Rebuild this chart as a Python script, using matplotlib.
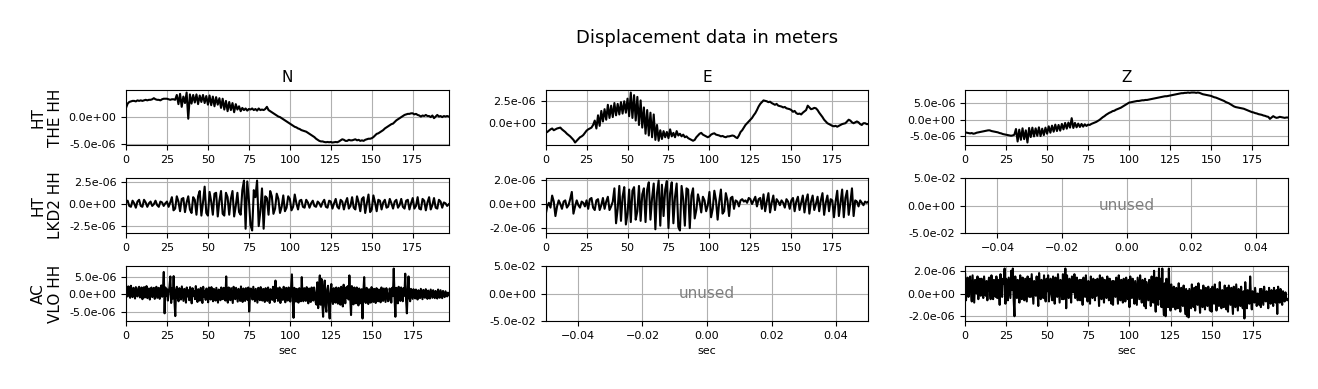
import matplotlib
matplotlib.use('Agg')
import matplotlib.pyplot as plt
from matplotlib.ticker import FormatStrFormatter
import numpy as np

# Displacement traces, values in micrometres.
# HT traces: one sample per second; AC VLO traces: two samples per second.
the_n = [1.6, 2.4, 2.7, 2.8, 2.9, 2.9, 2.8, 3.0, 2.9, 3.0,
         2.9, 3.0, 3.1, 3.0, 3.1, 3.1, 3.2, 3.4, 3.2, 3.1,
         3.1, 3.0, 3.2, 3.3, 3.3, 3.3, 3.2, 3.1, 3.2, 3.2,
         3.1, 4.0, 2.3, 4.2, 1.8, 3.7, 2.5, 4.45, -0.4, 4.1,
         2.4, 4.0, 2.6, 4.1, 2.3, 3.9, 2.7, 4.0, 2.5, 3.8,
         2.2, 3.9, 2.1, 3.7, 1.9, 3.6, 2.2, 3.4, 1.6, 3.3,
         1.3, 2.9, 1.0, 2.7, 1.2, 2.5, 0.8, 2.3, 1.3, 1.9,
         1.0, 1.6, 1.2, 1.5, 1.1, 1.4, 1.3, 1.5, 1.2, 1.4,
         1.1, 1.5, 1.2, 1.3, 1.2, 1.4, 1.8, 1.2, 1.0, 0.8,
         0.6, 0.4, 0.2, 0.0, -0.1, -0.3, -0.5, -0.7, -0.9, -1.1,
         -1.3, -1.5, -1.7, -1.9, -2.0, -2.2, -2.3, -2.5, -2.6, -2.7,
         -2.8, -3.0, -3.2, -3.4, -3.6, -3.8, -4.1, -4.3, -4.5, -4.6,
         -4.6, -4.7, -4.75, -4.7, -4.75, -4.7, -4.8, -4.75, -4.7, -4.75,
         -4.6, -4.4, -4.2, -4.3, -4.5, -4.5, -4.3, -4.4, -4.4, -4.3,
         -4.2, -4.4, -4.3, -4.5, -4.4, -4.5, -4.3, -4.2, -4.1, -4.1,
         -4.0, -3.8, -3.5, -3.2, -3.1, -2.9, -2.7, -2.5, -2.2, -2.0,
         -1.8, -1.6, -1.4, -1.3, -1.0, -0.7, -0.5, -0.3, -0.1, 0.1,
         0.3, 0.4, 0.5, 0.5, 0.6, 0.6, 0.4, 0.5, 0.3, 0.2,
         0.0, 0.2, 0.1, 0.3, 0.1, 0.1, -0.1, 0.2, -0.3, 0.0,
         0.3, 0.0, 0.1, -0.1, 0.1, 0.0, 0.1, 0.0]

the_e = [-1.1, -1.0, -0.85, -0.7, -0.6, -0.8, -0.7, -0.6, -0.55, -0.5,
         -0.7, -0.85, -1.0, -1.2, -1.35, -1.5, -1.7, -1.9, -2.2, -2.0,
         -1.8, -1.6, -1.5, -1.35, -1.1, -0.85, -0.7, -0.6, -0.5, -0.2,
         0.3, -0.6, 0.9, -0.3, 1.4, 0.2, 1.6, 0.4, 2.1, 0.6,
         2.0, 0.7, 2.3, 0.9, 2.2, 1.0, 2.4, 1.1, 2.5, 1.2,
         2.8, 0.8, 3.5, 0.6, 3.2, 0.3, 3.0, -0.2, 2.6, -0.5,
         1.8, -1.2, 1.5, -1.4, 1.2, -1.6, 1.0, -1.9, -0.2, -2.0,
         -0.8, -1.8, -0.9, -1.6, -1.0, -1.7, -0.7, -1.5, -1.1, -1.6,
         -0.9, -1.4, -1.2, -1.5, -1.3, -1.6, -1.5, -1.7, -1.8, -1.9,
         -2.0, -1.9, -1.6, -1.4, -1.2, -1.1, -1.3, -1.4, -1.5, -1.6,
         -1.5, -1.3, -1.2, -1.15, -1.3, -1.35, -1.4, -1.5, -1.45, -1.55,
         -1.6, -1.5, -1.5, -1.45, -1.4, -1.45, -1.6, -1.7, -1.4, -1.0,
         -0.8, -0.5, -0.2, 0.0, 0.2, 0.4, 0.6, 0.9, 1.15, 1.5,
         1.9, 2.2, 2.4, 2.6, 2.55, 2.5, 2.4, 2.45, 2.3, 2.2,
         2.1, 2.2, 2.0, 1.95, 1.9, 1.8, 1.85, 1.7, 1.65, 1.6,
         1.5, 1.3, 1.4, 1.15, 1.05, 1.1, 1.0, 1.2, 1.35, 1.5,
         2.0, 1.8, 1.6, 1.65, 1.75, 1.7, 1.5, 1.2, 0.95, 0.7,
         0.4, 0.2, 0.0, -0.1, -0.2, -0.3, -0.35, -0.3, -0.4, -0.3,
         -0.2, -0.1, -0.05, 0.0, 0.2, 0.4, 0.3, 0.1, 0.0, 0.1,
         0.2, 0.1, -0.1, -0.2, 0.0, 0.0, -0.1, -0.1]

the_z = [-3.8, -3.9, -4.0, -4.1, -4.0, -4.2, -4.1, -3.9, -3.8, -3.7,
         -3.6, -3.5, -3.4, -3.3, -3.2, -3.2, -3.4, -3.5, -3.6, -3.7,
         -3.8, -4.0, -4.1, -4.3, -4.4, -4.5, -4.6, -4.7, -4.8, -4.7,
         -4.5, -2.8, -6.5, -3.0, -6.0, -2.6, -5.8, -3.2, -6.8, -2.5,
         -5.2, -2.4, -5.0, -2.6, -4.8, -2.3, -4.9, -2.7, -4.6, -2.4,
         -4.2, -2.0, -3.9, -1.8, -3.6, -1.5, -3.4, -1.6, -3.3, -1.3,
         -2.9, -1.0, -2.7, -0.9, -2.4, 0.4, -2.5, -1.0, -2.3, -1.2,
         -2.2, -1.3, -2.1, -1.4, -1.9, -1.5, -1.6, -1.3, -1.1, -0.9,
         -0.7, -0.4, -0.1, 0.3, 0.7, 1.0, 1.4, 1.7, 2.0, 2.2,
         2.5, 2.6, 2.9, 3.1, 3.3, 3.5, 3.8, 4.1, 4.4, 4.7,
         5.0, 5.1, 5.2, 5.3, 5.4, 5.5, 5.5, 5.6, 5.7, 5.7,
         5.8, 5.8, 5.9, 6.0, 6.1, 6.2, 6.3, 6.4, 6.5, 6.6,
         6.7, 6.8, 6.9, 6.9, 7.0, 7.1, 7.2, 7.3, 7.4, 7.5,
         7.6, 7.7, 7.8, 7.8, 7.9, 7.9, 8.0, 7.9, 8.0, 8.0,
         8.0, 7.9, 8.0, 7.9, 7.7, 7.5, 7.4, 7.3, 7.2, 7.1,
         7.0, 6.8, 6.6, 6.5, 6.3, 6.1, 5.9, 5.7, 5.5, 5.2,
         5.0, 4.8, 4.5, 4.2, 3.9, 3.7, 3.6, 3.5, 3.4, 3.3,
         3.2, 3.0, 2.8, 2.6, 2.4, 2.2, 2.1, 1.9, 1.8, 1.6,
         1.5, 1.4, 1.2, 1.1, 0.9, 0.8, 0.2, 0.6, 1.0, 0.7,
         0.5, 0.6, 0.8, 0.7, 0.6, 0.5, 0.6, 0.6]

lkd2_n = [0.2, 0.4, -0.2, -0.3, 0.4, 0.1, -0.4, 0.3, 0.5, -0.2,
          -0.3, 0.5, 0.2, -0.3, 0.1, 0.3, -0.2, 0.0, 0.4, -0.1,
          -0.3, 0.3, 0.2, -0.2, 0.1, 0.3, -0.3, 0.2, 0.8, -0.7,
          -0.5, 0.9, 0.3, -0.8, 0.6, 0.7, -0.9, 0.2, 0.9, -0.6,
          -1.0, 0.8, 0.5, -1.2, 0.9, 1.5, -1.3, 0.2, 2.0, -1.0,
          -1.3, 1.4, 0.3, -1.2, 1.2, 1.3, -1.4, 0.4, 1.5, -1.1,
          -1.3, 1.3, 0.8, -1.2, 0.6, 1.5, -1.4, -0.2, 1.3, -0.9,
          -1.2, 1.6, 2.7, -2.8, 2.6, 0.5, -2.4, -3.0, 1.6, 0.8,
          2.7, -2.5, -0.8, 1.8, -2.8, 0.9, 0.7, -1.2, 1.5, 0.9,
          -1.1, -0.5, 1.2, 0.6, -1.0, -0.3, 1.0, -0.8, -0.4, 0.9,
          0.6, -0.7, -0.3, 1.1, 0.1, -0.6, 0.4, 0.5, -0.3, -0.4,
          0.5, 0.2, -0.4, 0.1, 0.4, -0.2, -0.3, 0.3, 0.1, -0.3,
          0.2, 0.5, -0.3, -0.4, 0.4, 0.3, -0.5, 0.1, 0.6, -0.3,
          -0.5, 0.5, 0.3, -0.6, 0.2, 0.7, -0.5, -0.2, 0.8, -0.4,
          -0.6, 0.9, 0.2, -0.8, 0.6, 0.8, -1.0, 0.1, 1.1, -0.9,
          -0.6, 1.0, 0.2, -0.8, 0.5, 0.4, -0.6, 0.2, 0.5, -0.4,
          -0.3, 0.6, 0.1, -0.5, 0.3, 0.5, -0.4, -0.1, 0.6, -0.3,
          -0.5, 0.4, 0.5, -0.6, 0.1, 0.7, -0.5, -0.2, 0.8, -0.5,
          -0.6, 0.6, 0.4, -0.7, 0.2, 0.8, -0.6, -0.1, 0.7, -0.4,
          -0.5, 0.5, 0.3, -0.4, 0.2, 0.1, -0.2, 0.0]

lkd2_e = [-0.9, -0.2, 0.1, -0.3, 0.7, 0.2, -1.0, -0.2, 0.3, 0.0,
          -0.4, 0.2, 0.3, -0.3, -0.1, 0.4, 1.0, -0.8, -0.2, 0.3,
          -0.1, -0.3, 0.2, 0.1, -0.2, 0.3, -0.4, 0.4, 0.5, -0.3,
          -0.5, 0.3, 0.4, -0.5, -0.1, 0.5, -0.4, 0.2, 0.6, -0.5,
          -0.2, 0.2, 1.3, -1.6, -0.4, 1.5, -1.4, 0.6, 1.4, -1.7,
          -0.8, 1.2, -1.5, 1.1, 1.4, -1.3, -0.6, 1.5, -1.4, 0.8,
          1.3, -1.5, 1.2, 1.8, -1.3, 0.5, 1.7, -2.1, 0.9, 1.95,
          -1.8, 1.6, -1.0, 1.2, 1.9, -2.0, 0.9, 1.8, -1.6, 0.6,
          1.7, -1.9, -2.2, 1.5, 0.4, -1.8, 1.3, 1.2, -2.0, 0.7,
          1.3, -1.2, -0.5, 0.8, 0.2, -0.7, 0.6, 0.3, -0.6, -0.1,
          1.0, -1.1, -0.4, 1.1, 0.3, -1.3, 0.2, 1.2, -0.8, -0.6,
          0.9, 0.3, -1.0, 0.5, 0.6, -0.4, 0.3, 0.2, -0.2, 0.3,
          0.4, 0.2, 0.3, 0.1, 0.5, 0.4, 0.0, 0.3, 0.6, -0.2,
          0.4, 0.5, -0.4, 0.8, -0.6, 0.2, 0.9, -0.7, 0.1, 0.7,
          -0.5, 0.4, 0.2, -0.1, 0.3, 0.1, -0.3, 0.4, 0.2, -0.4,
          0.3, 0.5, -0.6, 0.2, 0.6, -0.5, 0.1, 0.7, -0.7, 0.3,
          0.8, -0.8, 0.2, 0.7, -0.5, 0.0, 0.6, -0.6, 0.3, 0.9,
          -0.9, 0.1, 0.7, -0.6, 0.4, 0.3, -1.1, 0.2, 1.1, -1.0,
          0.1, 1.2, -1.1, 0.5, 1.1, -0.9, 0.1, 1.3, -1.0, 0.3,
          0.2, -0.2, 0.3, 0.1, -0.1, 0.2, 0.1, 0.2]

vlo_n = [2.9, 0.4, -0.6, 2.3, 1.1, -1.0, 2.5, 0.2, -0.8, 1.9, 0.9, -1.2, 2.1, 0.5, -0.6, 1.8, 2.2, -0.9, 0.3, 2.0,
         -1.4, 1.2, 2.1, -0.9, 0.6, 2.4, -1.1, 0.1, 1.7, -1.5, 1.3, 2.0, -0.8, 0.4, 1.9, -1.3, 0.7, 2.2, -1.0, 0.5,
         1.9, -1.3, 0.8, 2.6, -0.7, 1.2, 6.5, -5.5, 2.0, -0.4, 1.5, -1.8, 0.6, 2.3, 5.2, -2.5, 1.8, -1.2, 5.3, -2.0,
         -6.3, 1.4, 2.2, -1.0, -2.0, 1.8, 0.5, -1.5, 2.3, 0.2, -1.9, 1.6, 0.9, -2.4, 2.0, -0.6, 1.2, -1.7, 2.1, 0.3,
         -2.6, 1.8, -0.5, 0.9, -1.4, 2.4, -0.3, -2.2, 1.5, 0.6, -1.8, 1.9, 0.4, -2.5, 2.2, -0.7, 1.0, -1.6, 1.7, 0.1,
         -2.3, 2.0, 0.7, -1.5, 2.1, -0.4, -2.0, 1.6, 0.8, -1.8, 1.9, -0.2, -2.4, 1.4, 0.3, -1.7, 2.0, 0.5, -1.4, 1.9,
         -0.3, -1.8, 5.2, -1.0, -2.4, 2.0, 0.6, -1.7, 1.8, -0.5, -2.5, 2.2, 0.9, -1.4, 1.9, -0.2, -2.1, 1.6, 0.4, -1.9,
         2.3, -0.6, -2.2, 1.7, 0.3, -1.9, 1.8, 0.5, -1.6, 2.0, -5.0, -0.3, 1.7, 0.8, -1.5, 2.2, 0.2, -2.0, 1.6, -0.4,
         -2.4, 1.9, 0.6, -1.7, 2.1, -0.3, -1.8, 1.6, 0.9, -2.2, 1.8, -0.5, -1.9, 2.0, 0.4, -2.5, 1.5, 0.1, -1.6, 2.2,
         0.3, -2.2, 4.0, -1.0, 1.8, -1.9, 0.5, 2.0, -2.5, 1.5, 0.2, -1.6, 2.2, -0.6, -2.3, 1.9, 0.7, -1.8, 2.0, -0.4,
         -2.1, 1.6, 5.8, -1.5, -6.8, 1.9, 0.4, -2.1, 1.6, -0.7, -2.4, 1.8, 0.3, -2.0, 5.0, -1.2, -2.0, 1.8, 0.6, -1.9,
         2.1, -0.8, -2.6, 1.7, 0.5, -2.2, 2.0, -0.4, -1.8, 2.0, 0.6, -2.4, -3.0, 3.5, -4.0, 2.0, 5.5, -3.0, 4.5, -2.5,
         -6.5, 2.0, 4.0, -3.5, -5.0, 1.5, 2.5, -2.8, -7.0, 0.5, 3.0, -2.0, -2.8, 1.8, 0.2, -2.4, 2.0, -0.8, -2.7, 1.9,
         0.3, -3.0, 2.2, -0.9, -3.5, 2.8, 0.6, -2.6, 2.0, -1.0, 2.4, -1.5, 5.5, -1.0, -6.0, 2.4, -0.5, -2.9, 2.0, -0.8,
         -2.6, 2.0, 0.4, -3.2, 1.7, -0.9, -2.6, 1.5, -7.0, 0.5, 5.0, -2.0, -2.5, 1.9, 0.3, -2.8, 1.5, -0.6, -2.4, 2.1,
         0.2, -2.2, 1.6, -0.8, -2.5, 1.8, 0.4, -2.0, 1.4, -0.3, -2.3, 2.0, 0.6, -1.9, 1.7, -0.2, -2.2, 1.8, 0.5, -2.0,
         -1.8, 1.7, 0.4, -2.4, 1.9, -0.5, 7.5, -1.0, -6.5, 1.9, 0.2, -2.6, 2.2, -0.6, -1.9, 2.0, 0.7, -2.0, 1.8, -0.4,
         6.0, -1.5, -5.5, 1.0, 5.2, -1.0, -2.0, 1.6, 0.2, -1.3, 1.5, -0.4, -1.2, 1.4, 0.3, -1.5, 1.2, -0.2, -1.1, 1.6,
         0.1, -1.4, 1.3, -0.3, -1.0, 1.5, 0.4, -1.3, 1.1, -0.2, -1.2, 1.4, 0.2, -1.0, 1.2, -0.4, -1.1, 1.0, 0.3, -1.2,
         1.4, -0.2, -1.0, 1.2, 0.1, -1.1, 1.0, -0.3, -0.8, 0.9, 0.2, -0.6, 0.5, -0.2]

vlo_z = [1.7, -0.6, 0.8, 1.4, -0.3, 0.5, 1.5, 0.2, -0.7, 1.6, 0.4, -0.8, 1.2, 0.9, 0.0, 1.5, -0.5, 0.7, 1.3, -0.2,
         1.3, 0.3, -0.4, 1.5, 0.6, -0.2, 1.1, -0.6, 0.8, 1.4, 0.3, -0.5, 1.6, 0.1, -0.5, 1.2, 0.6, -0.3, 1.5, -0.4,
         1.2, 0.4, -1.0, 1.7, 0.2, -0.3, 1.3, 0.9, 2.2, -0.9, 1.3, 0.1, -0.6, 1.4, 0.5, -0.4, 2.0, 0.3, 2.2, -0.5,
         -2.0, 1.5, 0.2, -0.4, 1.2, 0.6, -0.8, 1.6, 0.1, -0.5, 1.4, 0.8, -0.6, 1.3, 0.3, -0.7, 1.5, 0.0, -0.3, 1.3,
         -0.3, 1.7, 0.4, -0.9, 1.1, 0.6, -0.2, 1.5, 0.3, -1.1, 1.8, 0.5, -0.5, 1.2, 0.8, -0.4, 1.6, -0.1, -0.7, 1.3,
         0.2, 1.6, -0.7, 0.5, 1.3, 0.0, -0.6, 1.5, 0.7, -0.9, 1.4, 0.3, -0.3, 1.7, 0.4, -0.8, 1.2, 0.9, -0.5, 1.7,
         -0.5, 0.6, 2.2, -1.3, 1.6, 0.3, -0.4, 1.3, 0.5, -0.8, 1.5, 0.2, 0.1, 1.7, -0.4, 0.6, 1.4, -0.6, 0.8, 1.2,
         -0.6, 1.2, 0.4, -1.0, 1.4, 0.7, -0.3, 1.6, 0.2, -0.7, 1.1, 0.6, -0.9, 1.5, 0.3, -0.4, 1.3, 0.8, -0.6, 1.2,
         -0.2, 1.3, 0.5, -1.1, 1.6, 0.2, -0.5, 1.4, 0.6, -0.8, 1.2, 0.1, -0.4, 1.5, 0.7, -0.6, 1.3, 0.4, -0.9, 1.1,
         -1.0, 1.1, 0.5, -0.3, 1.4, 0.2, -0.9, 1.6, 0.6, -0.6, 1.2, 0.3, -0.8, 1.3, 0.5, -0.7, 1.4, 0.0, -0.5, 1.2,
         -1.2, 1.5, 0.3, -0.4, 1.3, 0.6, -0.9, 1.1, 0.1, -1.0, 1.4, 0.4, -0.5, 1.6, 0.2, -0.8, 1.2, 0.5, -1.1, 1.3,
         -1.3, 1.0, 0.2, -0.6, 1.2, 0.4, -1.1, 1.5, 0.0, -0.8, 2.0, -0.3, -1.6, 1.4, 0.6, -1.0, 2.2, -0.5, 1.3, -1.2,
         2.2, -0.8, -1.9, 0.9, -2.0, 1.3, 0.4, -1.2, 2.2, -0.6, -1.5, 0.8, -0.2, -1.2, 0.6, -0.9, -1.4, 0.5, -0.3, -1.3,
         0.9, -0.8, -1.6, 0.5, -0.2, -1.1, 0.7, -0.6, -1.8, 0.4, -2.0, 0.2, -2.1, 0.4, -0.4, -1.3, 0.8, -0.7, -1.2, 0.5,
         -1.5, 0.6, -0.3, -1.0, 0.9, -0.6, -1.7, 0.3, -0.2, -1.2, 0.7, -0.8, -1.4, 0.5, -0.1, -1.1, 0.6, -0.7, -1.5, 0.4,
         -1.6, 0.6, -0.4, -0.9, 0.8, -0.5, -1.5, 0.4, -0.2, -1.1, 1.0, -0.6, -1.3, 0.3, -0.3, -1.2, 0.7, -0.9, -1.4, 0.5,
         -1.6, 0.7, -0.2, -1.0, 0.5, -0.7, -1.8, 0.6, -0.4, -1.2, 0.8, -0.3, -1.5, 0.4, -0.6, -1.1, 0.6, -0.8, -1.3, 0.2,
         -2.2, 1.0, -0.5, -1.3, 0.3, -0.8, -0.9, 1.5, -0.4, -1.4, 0.2, -0.6, -0.8, 0.5, -0.3, -1.1, 0.0, -0.7, -1.0, 0.4,
         -1.2, 0.4, -0.3, -1.0, 0.6, -0.5, -0.7, 0.2, -0.1, -1.3, 0.5, -0.6, -0.9, 0.3, -0.2, -1.1, 0.5, -0.4, -0.8, 0.3,
         -1.8, 0.6, -0.2, -0.8, 0.4, -0.6, -1.0, 0.2, -0.3, -0.7, 0.1, -0.5, -0.6, -0.5]

channels = ['N', 'E', 'Z']
stations = ['HT\nTHE HH', 'HT\nLKD2 HH', 'AC\nVLO HH']
# (values, sample spacing in s) per panel, None where the channel is unused
traces = [[(the_n, 1.0), (the_e, 1.0), (the_z, 1.0)],
          [(lkd2_n, 1.0), (lkd2_e, 1.0), None],
          [(vlo_n, 0.5), None, (vlo_z, 0.5)]]

fig, axes = plt.subplots(3, 3, figsize=(13.18, 3.89), dpi=100)
fig.subplots_adjust(left=0.0956, right=0.9772, top=0.7686, bottom=0.1748,
                    hspace=0.6, wspace=0.3)

for i in range(3):
    for j in range(3):
        ax = axes[i, j]
        tr = traces[i][j]
        if tr is None:
            ax.set_xlim(-0.05, 0.05)
            ax.set_ylim(-0.05, 0.05)
            ax.text(0, 0, 'unused', color='gray', ha='center', va='center', fontsize=11)
        else:
            vals, dt = tr
            y = np.array(vals) * 1e-6
            t = np.arange(len(y)) * dt
            ax.plot(t, y, color='black', lw=1.5)
            ax.set_xlim(0, t[-1])
        ax.yaxis.set_major_formatter(FormatStrFormatter('%.1e'))
        ax.tick_params(labelsize=8)
        ax.grid(True)
        if i == 0:
            ax.set_title(channels[j], fontsize=11)
        if j == 0:
            ax.set_ylabel(stations[i], fontsize=11)
        if i == 2:
            ax.set_xlabel('sec', fontsize=8)

fig.suptitle('Displacement data in meters', x=0.5364, y=0.902, va='center', fontsize=13)

plt.savefig('out.png', dpi=100)
